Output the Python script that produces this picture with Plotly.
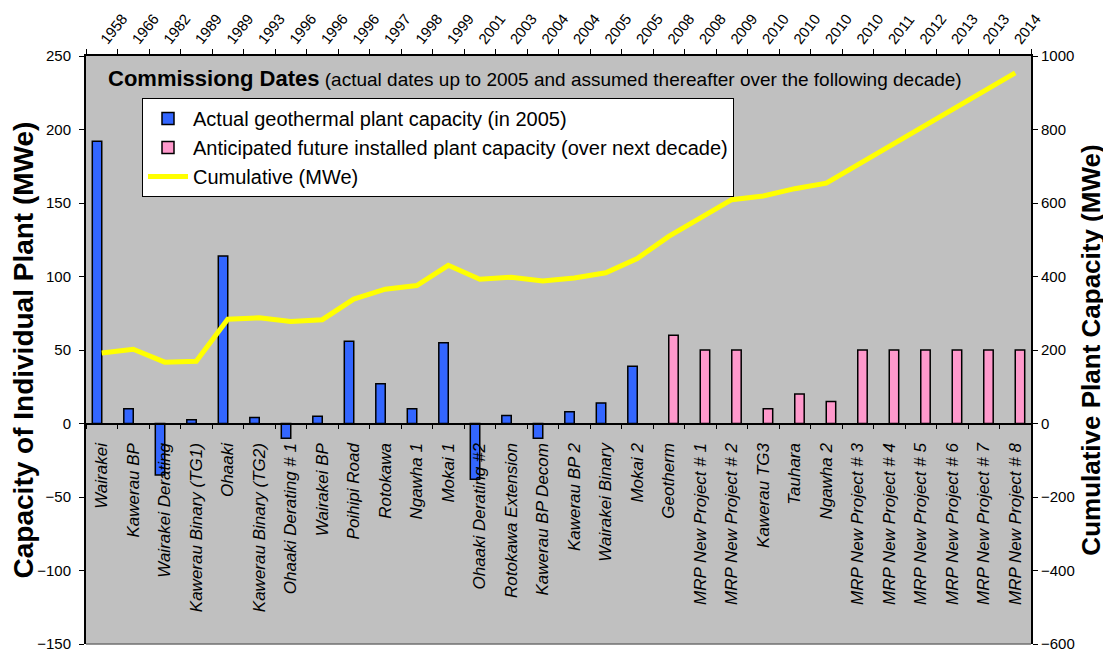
import plotly.graph_objects as go

plants = ["Wairakei", "Kawerau BP", "Wairakei Derating", "Kawerau Binary (TG1)", "Ohaaki",
          "Kawerau Binary (TG2)", "Ohaaki Derating # 1", "Wairakei BP", "Poihipi Road", "Rotokawa",
          "Ngawha 1", "Mokai 1", "Ohaaki Derating #2", "Rotokawa Extension", "Kawerau BP Decom",
          "Kawerau BP 2", "Wairakei Binary", "Mokai 2", "Geotherm", "MRP New Project # 1",
          "MRP New Project # 2", "Kawerau TG3", "Tauhara", "Ngawha 2", "MRP New Project # 3",
          "MRP New Project # 4", "MRP New Project # 5", "MRP New Project # 6", "MRP New Project # 7",
          "MRP New Project # 8"]
years = ["1958", "1966", "1982", "1989", "1989", "1993", "1996", "1996", "1996", "1997",
         "1998", "1999", "2001", "2003", "2004", "2004", "2005", "2005", "2008", "2008",
         "2009", "2010", "2010", "2010", "2010", "2011", "2012", "2013", "2013", "2014"]
actual = [192, 10, -35, 2.5, 114, 4, -10, 5, 56, 27, 10, 55, -38, 5.5, -10, 8, 14, 39,
          None, None, None, None, None, None, None, None, None, None, None, None]
anticipated = [None] * 18 + [60, 50, 50, 10, 20, 15, 50, 50, 50, 50, 50, 50]
cumulative = [192, 202, 167, 169.5, 283.5, 287.5, 277.5, 282.5, 338.5, 365.5, 375.5, 430.5,
              392.5, 398, 388, 396, 410, 449, 509, 559, 609, 619, 639, 654, 704, 754, 804,
              854, 904, 954]

FONT = "Liberation Sans, Arial, sans-serif"

fig = go.Figure()
fig.add_trace(go.Bar(x=plants, y=actual, name="Actual geothermal plant capacity (in 2005)",
                     marker=dict(color="#3366FF", line=dict(color="black", width=1.5)),
                     legendgroup="a"))
fig.add_trace(go.Bar(x=plants, y=anticipated,
                     name="Anticipated future installed plant capacity (over next decade)",
                     marker=dict(color="#FF99CC", line=dict(color="black", width=1.5)),
                     legendgroup="b"))
fig.add_trace(go.Scatter(x=plants, y=cumulative, name="Cumulative (MWe)", mode="lines",
                         line=dict(color="#FFFF00", width=5), xaxis="x2", yaxis="y2",
                         legendgroup="c"))

# page body has an 8px margin, so the figure is sized/offset to fit the 1111x651 window
fig.update_layout(
    width=1103, height=643,
    margin=dict(l=78, r=80, t=48, b=7),
    paper_bgcolor="white", plot_bgcolor="#C0C0C0",
    font=dict(family=FONT, size=15, color="black"),
    barmode="group", bargap=0.4, bargroupgap=0,
    showlegend=True,
    legend=dict(x=(142 - 86) / 945, y=(644 - 98) / 588, xanchor="left", yanchor="top",
                bgcolor="white", bordercolor="black", borderwidth=1,
                font=dict(family=FONT, size=20), tracegroupgap=0, itemwidth=40,
                traceorder="grouped"),
    xaxis=dict(type="category", categoryorder="array", categoryarray=plants,
               range=[-0.5, 29.5], anchor="free", position=0.375, automargin=False,
               tickson="boundaries", ticks="outside", ticklen=5, tickcolor="black",
               showline=True, linecolor="black", linewidth=1.5, showgrid=False,
               tickangle=-90, ticklabelstandoff=12,
               tickfont=dict(family=FONT, size=17, style="italic")),
    xaxis2=dict(type="category", categoryorder="array", categoryarray=plants,
                range=[-0.5, 29.5], overlaying="x", side="top", anchor="y",
                automargin=False,
                tickmode="array", tickvals=plants, ticktext=years,
                tickson="boundaries", ticks="outside", ticklen=5, tickcolor="black",
                showline=True, linecolor="black", linewidth=1.5, showgrid=False,
                tickangle=-52, tickfont=dict(family=FONT, size=15)),
    yaxis=dict(range=[-150, 250], dtick=50, tick0=0, ticks="outside", ticklen=5,
               tickcolor="black", showline=True, linecolor="black", linewidth=2,
               showgrid=False, zeroline=False, tickfont=dict(size=15), automargin=False,
               ticklabelstandoff=5, ticklabeloverflow="allow",
               title=dict(text="<b>Capacity of Individual Plant (MWe)</b>",
                          font=dict(family=FONT, size=28), standoff=6)),
    yaxis2=dict(range=[-600, 1000], dtick=200, tick0=0, overlaying="y", side="right",
                anchor="x", ticks="outside", ticklen=5, tickcolor="black",
                showline=True, linecolor="black", linewidth=2, showgrid=False,
                zeroline=False, tickfont=dict(size=15), automargin=False,
                ticklabeloverflow="allow",
                title=dict(text="<b>Cumulative Plant Capacity (MWe)</b>",
                           font=dict(family=FONT, size=26), standoff=8)),
)

fig.add_shape(type="line", xref="paper", yref="paper", x0=0, x1=1, y0=0, y1=0,
              line=dict(color="#707070", width=1.5))

fig.add_annotation(xref="paper", yref="paper", x=(106 - 86) / 945, y=(644 - 78) / 588,
                   xanchor="left", yanchor="middle", showarrow=False,
                   text="<b><span style='font-size:22px'>Commissiong Dates</span></b> "
                        "(actual dates up to 2005 and assumed thereafter over the following decade)",
                   font=dict(family=FONT, size=19, color="black"))

fig.write_html("out.html")
